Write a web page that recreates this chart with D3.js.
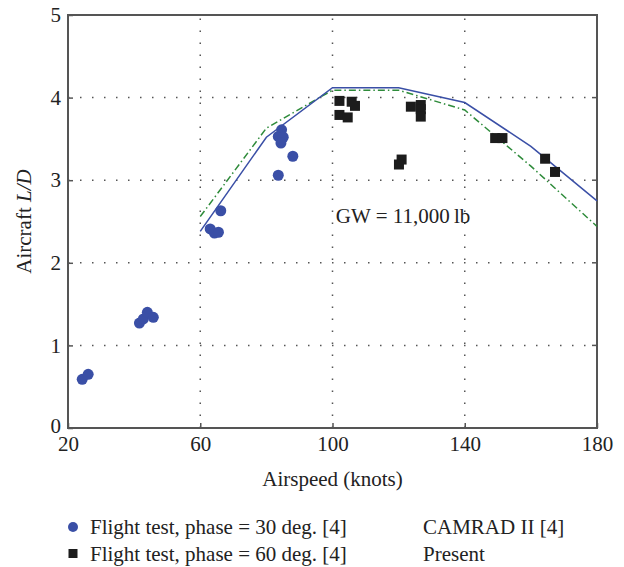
<!DOCTYPE html>
<html>
<head>
<meta charset="utf-8">
<script src="https://cdn.jsdelivr.net/npm/d3@7/dist/d3.min.js"></script>
<style>
  body { margin: 0; background: #fff; }
  text { font-family: "Liberation Serif", "DejaVu Serif", serif; fill: #222; }
</style>
</head>
<body>
<div id="chart"></div>
<script>
// flight test, phase = 30 deg (knots, L/D)
var phase30Speed = [24.3, 26.1, 41.6, 42.8, 44.0, 45.8, 63.0, 64.3, 65.5, 66.2, 83.6, 84.6, 83.6, 85.1, 84.4, 88.0];
var phase30LD    = [0.59, 0.65, 1.27, 1.32, 1.40, 1.34, 2.41, 2.36, 2.37, 2.63, 3.06, 3.61, 3.53, 3.52, 3.45, 3.29];

// flight test, phase = 60 deg
var phase60Speed = [102.1, 105.8, 106.8, 102.1, 104.6, 123.7, 126.7, 126.7, 126.7, 120.9, 120.1, 149.2, 151.4, 164.3, 167.3];
var phase60LD    = [3.96, 3.95, 3.90, 3.79, 3.76, 3.89, 3.91, 3.86, 3.77, 3.25, 3.19, 3.51, 3.51, 3.26, 3.10];

// prediction curves
var curveSpeed = [60, 80, 100, 120, 140, 160, 180];
var presentLD  = [2.38, 3.52, 4.12, 4.12, 3.94, 3.41, 2.75];
var camradLD   = [2.56, 3.63, 4.09, 4.09, 3.85, 3.17, 2.44];

var xTicks = [20, 60, 100, 140, 180];
var yTicks = [0, 1, 2, 3, 4, 5];

var WIDTH = 624, HEIGHT = 567;
var MARGINS = {top: 15, right: 27, bottom: 139, left: 68};
var FONT = 21;

var svg = d3.select("#chart").append("svg")
  .attr("width", WIDTH)
  .attr("height", HEIGHT);

var x = d3.scaleLinear().domain([20, 180]).range([MARGINS.left, WIDTH - MARGINS.right]);
var y = d3.scaleLinear().domain([0, 5]).range([HEIGHT - MARGINS.bottom, MARGINS.top]);

var plotLeft = x.range()[0], plotRight = x.range()[1];
var plotTop = y.range()[1], plotBottom = y.range()[0];

// dotted grid
svg.append("g").selectAll("line").data(yTicks.slice(1, -1))
  .enter().append("line")
  .attr("x1", plotLeft).attr("x2", plotRight)
  .attr("y1", function(d) { return y(d); })
  .attr("y2", function(d) { return y(d); })
  .attr("stroke", "#555").attr("stroke-width", 1.5)
  .attr("stroke-dasharray", "1.5,10.5");

svg.append("g").selectAll("line").data(xTicks.slice(1, -1))
  .enter().append("line")
  .attr("y1", plotBottom).attr("y2", plotTop)
  .attr("x1", function(d) { return x(d); })
  .attr("x2", function(d) { return x(d); })
  .attr("stroke", "#555").attr("stroke-width", 1.5)
  .attr("stroke-dasharray", "1.5,10.5");

// axes
var xAxis = d3.axisBottom(x).tickValues(xTicks).tickFormat(d3.format("d")).tickSize(-5).tickPadding(8);
var yAxis = d3.axisLeft(y).tickValues(yTicks).tickFormat(d3.format("d")).tickSize(-5).tickPadding(7);

var gx = svg.append("g")
  .attr("transform", "translate(0," + plotBottom + ")")
  .call(xAxis);
var gy = svg.append("g")
  .attr("transform", "translate(" + plotLeft + ",0)")
  .call(yAxis);

[gx, gy].forEach(function(g) {
  g.select(".domain").remove();
  g.selectAll("line").attr("stroke", "#555").attr("stroke-width", 1.5);
  g.selectAll("text").attr("font-size", FONT).style("font-family", "Liberation Serif").attr("fill", "#222");
});
// lift the zero label a little so it clears the "20" below
gy.selectAll(".tick text").filter(function(d) { return d === 0; }).attr("dy", "0.2em");

// right side ticks
svg.append("g").selectAll("line").data(yTicks.slice(1, -1))
  .enter().append("line")
  .attr("x1", plotRight).attr("x2", plotRight - 5)
  .attr("y1", function(d) { return y(d); })
  .attr("y2", function(d) { return y(d); })
  .attr("stroke", "#555").attr("stroke-width", 1.5);

// frame
svg.append("rect")
  .attr("x", plotLeft).attr("y", plotTop)
  .attr("width", plotRight - plotLeft).attr("height", plotBottom - plotTop)
  .attr("fill", "none")
  .attr("stroke", "#555")
  .attr("stroke-width", 2);

// curves
var lineFunc = d3.line()
  .x(function(d, i) { return x(curveSpeed[i]); })
  .y(function(d) { return y(d); });

svg.append("path")
  .attr("d", lineFunc(camradLD))
  .attr("stroke", "#2e8b3a")
  .attr("stroke-width", 1.5)
  .attr("stroke-dasharray", "7,3,1.5,3")
  .attr("fill", "none");

svg.append("path")
  .attr("d", lineFunc(presentLD))
  .attr("stroke", "#3a4fa6")
  .attr("stroke-width", 1.5)
  .attr("fill", "none");

// flight test markers
svg.append("g").selectAll("circle")
  .data(phase30LD)
  .enter().append("circle")
  .attr("cx", function(d, i) { return x(phase30Speed[i]); })
  .attr("cy", function(d) { return y(d); })
  .attr("r", 5.5)
  .attr("fill", "#3a4fa6");

svg.append("g").selectAll("rect")
  .data(phase60LD)
  .enter().append("rect")
  .attr("x", function(d, i) { return x(phase60Speed[i]) - 5; })
  .attr("y", function(d) { return y(d) - 5; })
  .attr("width", 10).attr("height", 10)
  .attr("fill", "#1c1c1c");

// annotation
svg.append("text")
  .attr("x", x(101))
  .attr("y", y(2.48))
  .attr("font-size", FONT)
  .text("GW = 11,000\u2009lb");

// axis titles
svg.append("text")
  .attr("x", (plotLeft + plotRight) / 2)
  .attr("y", 486)
  .attr("text-anchor", "middle")
  .attr("font-size", FONT)
  .text("Airspeed (knots)");

var yl = svg.append("text")
  .attr("transform", "translate(31," + (plotTop + plotBottom) / 2 + ") rotate(-90)")
  .attr("text-anchor", "middle")
  .attr("font-size", FONT);
yl.append("tspan").text("Aircraft ");
yl.append("tspan").attr("font-style", "italic").text("L/D");

// legend
var legend = svg.append("g").attr("class", "legend");
legend.append("circle").attr("cx", 73).attr("cy", 527).attr("r", 5).attr("fill", "#3a4fa6");
legend.append("rect").attr("x", 68.5).attr("y", 549).attr("width", 9).attr("height", 9).attr("fill", "#1c1c1c");
legend.append("text").attr("x", 90).attr("y", 534).attr("font-size", FONT).text("Flight test, phase = 30 deg. [4]");
legend.append("text").attr("x", 90).attr("y", 561).attr("font-size", FONT).text("Flight test, phase = 60 deg. [4]");
legend.append("text").attr("x", 423).attr("y", 534).attr("font-size", FONT).text("CAMRAD II [4]");
legend.append("text").attr("x", 423).attr("y", 561).attr("font-size", FONT).text("Present");
</script>
</body>
</html>
